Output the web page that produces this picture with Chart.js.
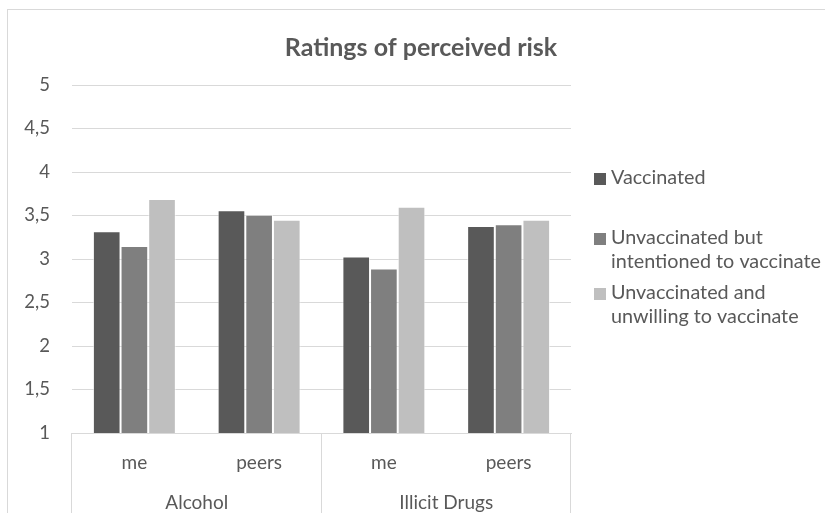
<!DOCTYPE html>
<html>
<head>
<meta charset="utf-8">
<script src="https://cdn.jsdelivr.net/npm/chart.js@4.4.1/dist/chart.umd.min.js"></script>
<style>
  html, body { margin: 0; padding: 0; background: #ffffff; }
  #wrap { width: 825px; height: 513px; position: relative; }
</style>
</head>
<body>
<div id="wrap"><canvas id="chart" width="825" height="513"></canvas></div>
<script>
// Sub-categories along the axis and the groups they belong to
const categories = ['me', 'peers', 'me', 'peers'];
const groups = ['Alcohol', 'Illicit Drugs'];

// Mean ratings per series
const vaccinated = [3.32, 3.56, 3.03, 3.38];
const intending = [3.15, 3.51, 2.89, 3.40];
const unwilling = [3.69, 3.45, 3.60, 3.45];

const seriesNames = ['Vaccinated', 'Unvaccinated but intentioned to vaccinate', 'Unvaccinated and unwilling to vaccinate'];
const legendLines = [['Vaccinated'], ['Unvaccinated but', 'intentioned to vaccinate'], ['Unvaccinated and', 'unwilling to vaccinate']];
const legendY = [178, 238, 293];

const yMin = 1, yMax = 5, yStep = 0.5;
const titleText = 'Ratings of perceived risk';

const TEXT = '#595959';
const LINE = '#d9d9d9';
const FONT = 'Lato, "Open Sans", sans-serif';

const decorations = {
  id: 'decorations',
  beforeDraw(chart) {
    const ctx = chart.ctx;
    ctx.save();
    ctx.strokeStyle = LINE;
    ctx.lineWidth = 1;
    ctx.strokeRect(7.5, 9.5, 900, 600);
    ctx.restore();
  },
  afterDraw(chart) {
    const ctx = chart.ctx;
    const area = chart.chartArea;
    const x = chart.scales.x;
    ctx.save();
    // group separators under the axis
    ctx.strokeStyle = LINE;
    ctx.lineWidth = 1;
    const mid = (x.getPixelForValue(1) + x.getPixelForValue(2)) / 2;
    [area.left, mid, area.right].forEach(px => {
      const p = Math.round(px) - 0.5;
      ctx.beginPath();
      ctx.moveTo(p, area.bottom);
      ctx.lineTo(p, chart.height);
      ctx.stroke();
    });
    // title
    ctx.fillStyle = TEXT;
    ctx.font = 'bold 25px ' + FONT;
    ctx.textAlign = 'center';
    ctx.textBaseline = 'middle';
    ctx.fillText(titleText, 421, 48);
    // legend
    ctx.font = '19.8px ' + FONT;
    ctx.textAlign = 'left';
    chart.data.datasets.forEach((ds, i) => {
      const y0 = legendY[i];
      ctx.fillStyle = ds.backgroundColor;
      ctx.fillRect(594, y0 - 5, 12, 12);
      ctx.fillStyle = TEXT;
      legendLines[i].forEach((line, j) => {
        ctx.fillText(line, 611, y0 + j * 24);
      });
    });
    ctx.restore();
  }
};

new Chart(document.getElementById('chart'), {
  type: 'bar',
  data: {
    labels: categories,
    datasets: [
      { label: seriesNames[0], data: vaccinated, backgroundColor: '#595959' },
      { label: seriesNames[1], data: intending, backgroundColor: '#7f7f7f' },
      { label: seriesNames[2], data: unwilling, backgroundColor: '#bfbfbf' }
    ].map(d => Object.assign(d, {
      xAxisID: 'x', yAxisID: 'y',
      borderColor: 'rgba(255,255,255,0.55)', borderWidth: 1,
      categoryPercentage: 0.665, barPercentage: 1
    }))
  },
  options: {
    responsive: false,
    animation: false,
    layout: { padding: { left: 8, right: 254, top: 85, bottom: 0 } },
    plugins: { legend: { display: false }, title: { display: false }, tooltip: { enabled: false } },
    scales: {
      y: {
        min: yMin, max: yMax,
        afterFit(s) { s.width = 64; },
        ticks: {
          stepSize: yStep, color: TEXT, padding: 22,
          font: { family: FONT, size: 18.5 },
          callback: v => String(v).replace('.', ',')
        },
        grid: { color: LINE, drawTicks: false },
        border: { display: false }
      },
      x: {
        type: 'category', position: 'bottom', weight: 0,
        afterFit(s) { s.height = 40; },
        ticks: { color: TEXT, padding: 18, font: { family: FONT, size: 19 } },
        grid: { display: false, drawTicks: false },
        border: { display: true, color: LINE }
      },
      x2: {
        type: 'category', position: 'bottom', weight: 1, labels: groups, offset: true,
        afterFit(s) { s.height = 40; },
        ticks: { color: TEXT, padding: 18, font: { family: FONT, size: 19 } },
        grid: { display: false, drawTicks: false },
        border: { display: false }
      }
    }
  },
  plugins: [decorations]
});
</script>
</body>
</html>
